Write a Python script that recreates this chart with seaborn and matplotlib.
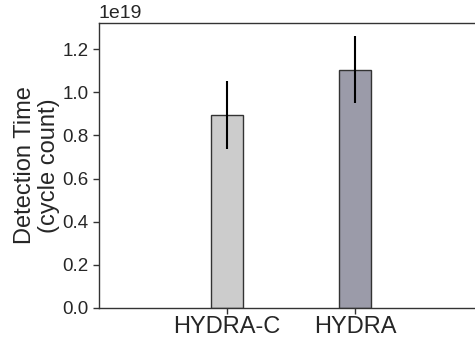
import matplotlib
matplotlib.use("Agg")
import matplotlib.pyplot as plt
import seaborn as sns
import pandas as pd

categories = ["HYDRA-C", "HYDRA"]
values = [0.895e19, 1.106e19]
errors = [0.157e19, 0.154e19]
colors = ["#cccccc", "#9999ab"]

sns.set_style("ticks")
plt.rcParams["font.family"] = ["Liberation Sans", "DejaVu Sans"]

fig = plt.figure(figsize=(4.75, 3.38), dpi=100)
ax = fig.add_axes([99 / 475, 30 / 338, 384 / 475, 285.5 / 338])

df = pd.DataFrame({"cat": categories, "val": values})
sns.barplot(data=df, x="cat", y="val", hue="cat", palette=colors, legend=False,
            width=0.25, edgecolor="#333333", linewidth=1.0, errorbar=None, ax=ax)
ax.errorbar(range(len(categories)), values, yerr=errors, fmt="none",
            ecolor="black", elinewidth=1.5, capsize=0)

ax.set_xlim(-1, 2)
ax.set_ylim(0, 1.324e19)
ax.set_xlabel("")
ax.set_ylabel("Detection Time\n(cycle count)", fontsize=17, linespacing=1.12,
              labelpad=2)
ax.tick_params(axis="y", labelsize=13.5, length=4, width=1, color="#333333")
ax.tick_params(axis="x", labelsize=17, length=4, width=1, color="#333333", pad=2)
ax.yaxis.get_offset_text().set_fontsize(14)
for s in ax.spines.values():
    s.set_color("#333333")
    s.set_linewidth(1.0)

fig.savefig("out.png", dpi=100)
